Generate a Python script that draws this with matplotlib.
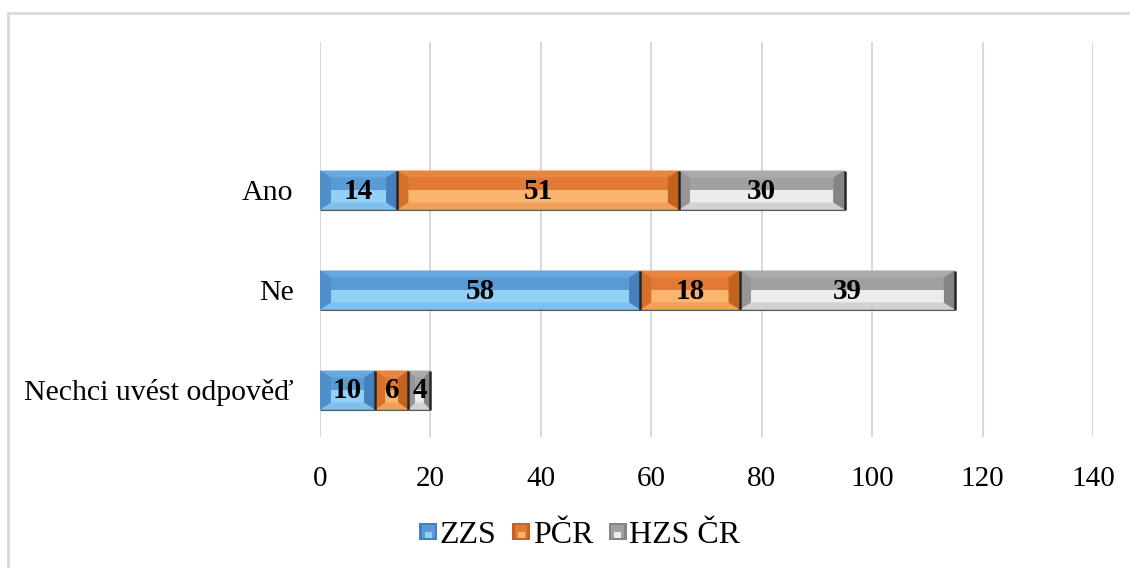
import matplotlib
matplotlib.use('Agg')
import matplotlib.pyplot as plt
from matplotlib.patches import Polygon, Rectangle
from matplotlib.legend_handler import HandlerBase

plt.rcParams['font.family'] = ['Liberation Serif', 'DejaVu Serif']

# data
categories = ['Nechci uvést odpověď', 'Ne', 'Ano']
series_names = ['ZZS', 'PČR', 'HZS ČR']
zzs = [10, 58, 14]
pcr = [6, 18, 51]
hzs = [4, 39, 30]
x_ticks = [0, 20, 40, 60, 80, 100, 120, 140]

# shades for the bevelled faces of each series
palettes = {
    'ZZS': dict(base='#5b9bd5', top='#67a8e0', left='#4f8fcb', right='#4580bd',
                light='#93d0f6', bottom='#80c0ec'),
    'PČR': dict(base='#e27a35', top='#ea8540', left='#d66f2a', right='#c4631f',
                light='#f9b56d', bottom='#f0a058'),
    'HZS ČR': dict(base='#a0a0a0', top='#ababab', left='#959595', right='#858585',
                   light='#ececec', bottom='#d2d2d2'),
}

BAR_H = 0.39
XB = 2.0
YB = 0.07


def bevel_bar(ax, x0, width, yc, pal):
    x1 = x0 + width
    top, bot = yc + BAR_H / 2, yc - BAR_H / 2
    xb = min(XB, 0.3 * width)
    # base box
    ax.add_patch(Rectangle((x0, bot), width, BAR_H, facecolor=pal['base'],
                           edgecolor='none', zorder=3))
    # inner lower highlight
    ax.add_patch(Rectangle((x0 + xb, bot + YB), width - 2 * xb, (BAR_H - 2 * YB) / 2,
                           facecolor=pal['light'], edgecolor='none', zorder=3))
    faces = [
        ([(x0, top), (x1, top), (x1 - xb, top - YB), (x0 + xb, top - YB)], pal['top']),
        ([(x0, bot), (x1, bot), (x1 - xb, bot + YB), (x0 + xb, bot + YB)], pal['bottom']),
        ([(x0, bot), (x0, top), (x0 + xb, top - YB), (x0 + xb, bot + YB)], pal['left']),
        ([(x1, bot), (x1, top), (x1 - xb, top - YB), (x1 - xb, bot + YB)], pal['right']),
    ]
    for pts, c in faces:
        ax.add_patch(Polygon(pts, closed=True, facecolor=c, edgecolor='none', zorder=3))
    # dark shadow edge on the right and bottom
    ax.plot([x1, x1], [bot, top], color='#262626', lw=1.8, zorder=4,
            solid_capstyle='butt')
    ax.plot([x0, x1], [bot, bot], color='#5a5a5a', lw=0.8, zorder=4,
            solid_capstyle='butt')


class BevelHandler(HandlerBase):
    def create_artists(self, legend, orig_handle, xdescent, ydescent,
                       width, height, fontsize, trans):
        pal = palettes[orig_handle.get_label()]
        s = height * 0.8
        x0 = xdescent + width - s
        y0 = -ydescent + (height - s) / 2
        outer = Rectangle((x0, y0), s, s, facecolor=pal['right'],
                          edgecolor='none', transform=trans)
        mid = Rectangle((x0 + s * 0.15, y0 + s * 0.15), s * 0.7, s * 0.7,
                        facecolor=pal['base'], edgecolor='none', transform=trans)
        low = Rectangle((x0 + s * 0.3, y0 + s * 0.15), s * 0.4, s * 0.3,
                        facecolor=pal['light'], edgecolor='none', transform=trans)
        return [outer, mid, low]


fig = plt.figure(figsize=(11.3, 5.68), dpi=100)
ax = fig.add_axes([320 / 1130, 1 - 437 / 568, (1093 - 320) / 1130, (437 - 42) / 568])

ypos = list(range(len(categories)))
lefts = [0] * len(categories)
for name, vals in zip(series_names, [zzs, pcr, hzs]):
    for i, v in enumerate(vals):
        bevel_bar(ax, lefts[i], v, ypos[i], palettes[name])
        ax.text(lefts[i] + v / 2, ypos[i] - 0.01, str(v), ha='center', va='center',
                fontsize=21, fontweight='bold', color='black', zorder=5)
        lefts[i] += v

ax.set_xlim(0, 140)
ax.set_ylim(-0.47, 3.48)
ax.set_xticks(x_ticks)
ax.set_xticklabels([str(t) for t in x_ticks])
ax.set_yticks(ypos)
ax.set_yticklabels(categories)
ax.tick_params(axis='x', length=0, pad=21, labelsize=21)
ax.tick_params(axis='y', length=0, pad=19, labelsize=21.5)
ax.grid(axis='x', color='#d9d9d9', lw=1.5, zorder=0)
ax.set_axisbelow(True)
for sp in ax.spines.values():
    sp.set_visible(False)

handles = [Rectangle((0, 0), 1, 1, label=n) for n in series_names]
fig.legend(handles=handles, labels=series_names, loc='center',
           bbox_to_anchor=(580 / 1130, 1 - 535 / 568), ncol=3, frameon=False,
           fontsize=23, handler_map={Rectangle: BevelHandler()},
           handlelength=0.55, handletextpad=0.08, columnspacing=0.5)

# chart frame
fig.patches.append(Rectangle((8 / 1130, -0.1), 1.2, 1 - 13 / 568 + 0.1,
                             transform=fig.transFigure, fill=False,
                             edgecolor='#d9d9d9', lw=2))

fig.savefig('out.png', dpi=100)
